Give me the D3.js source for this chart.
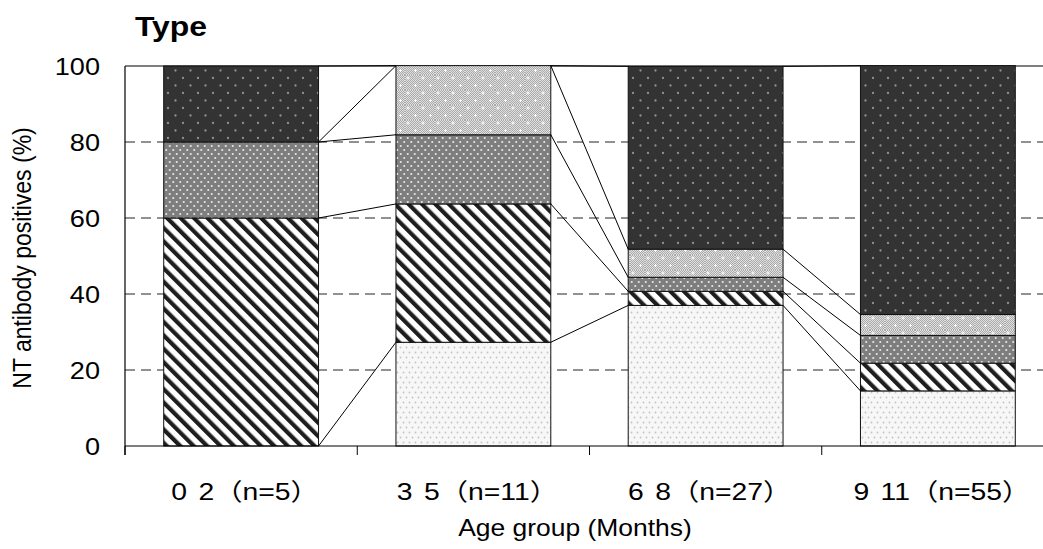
<!DOCTYPE html>
<html><head><meta charset="utf-8">
<script src="https://cdn.jsdelivr.net/npm/d3@7"></script>
<style>
html,body{margin:0;padding:0;background:#fff;}
svg{display:block;font-family:"Liberation Sans",Arial,"Noto Sans CJK JP",sans-serif;}
</style></head>
<body>
<svg id="chart" width="1043" height="549"></svg>
<script>
// ---- data (percent of NT antibody positives per age group) ----
const categories = ["0 2（n=5）", "3 5（n=11）", "6 8（n=27）", "9 11（n=55）"];
const seriesNames = ["type1", "type2", "type3", "type4", "type5"];
const type1 = [0, 27.3, 37.0, 14.5];
const type2 = [60, 36.4, 3.7, 7.3];
const type3 = [20, 18.2, 3.7, 7.3];
const type4 = [0, 18.2, 7.4, 5.5];
const type5 = [20, 0, 48.1, 65.5];
const yTicks = [0, 20, 40, 60, 80, 100];
const titleText = "Type";
const xTitle = "Age group (Months)";
const yTitle = "NT antibody positives (%)";

const seriesValues = [type1, type2, type3, type4, type5];
const table = categories.map((c, i) => {
  const row = {cat: c};
  seriesNames.forEach((s, j) => row[s] = seriesValues[j][i]);
  return row;
});

const svg = d3.select("#chart");
const margin = {left: 125, top: 66, right: 1054, bottom: 446};

// ---- patterns ----
const defs = svg.append("defs");
function dotPattern(id, w, h, bg, dots, col, r) {
  const p = defs.append("pattern").attr("id", id).attr("patternUnits", "userSpaceOnUse")
    .attr("width", w).attr("height", h);
  p.append("rect").attr("width", w).attr("height", h).attr("fill", bg);
  dots.forEach(d => p.append("circle").attr("cx", d[0]).attr("cy", d[1]).attr("r", r).attr("fill", col));
  return p;
}
dotPattern("p1", 6, 10, "#f7f7f7", [[1.5, 2.5], [4.5, 7.5]], "#c4c4c4", 0.9);
const ps = defs.append("pattern").attr("id", "p2").attr("patternUnits", "userSpaceOnUse")
  .attr("width", 9.5).attr("height", 10).attr("patternTransform", "rotate(-45)");
ps.append("rect").attr("width", 9.5).attr("height", 10).attr("fill", "#fff");
ps.append("rect").attr("x", 0).attr("width", 4.2).attr("height", 10).attr("fill", "#1e1e1e");
dotPattern("p3", 7, 8, "#7e7e7e", [[1.75, 2], [5.25, 6]], "#e8e8e8", 1.05);
const pc = defs.append("pattern").attr("id", "chk").attr("patternUnits", "userSpaceOnUse")
  .attr("width", 2).attr("height", 2);
pc.append("rect").attr("width", 2).attr("height", 2).attr("fill", "#e0e0e0");
pc.append("rect").attr("width", 1).attr("height", 1).attr("fill", "#aaaaaa");
pc.append("rect").attr("x", 1).attr("y", 1).attr("width", 1).attr("height", 1).attr("fill", "#aaaaaa");
const p4 = defs.append("pattern").attr("id", "p4").attr("patternUnits", "userSpaceOnUse")
  .attr("width", 15).attr("height", 15);
p4.append("rect").attr("width", 15).attr("height", 15).attr("fill", "url(#chk)");
[[3, 3], [10.5, 10.5]].forEach(d => {
  p4.append("rect").attr("x", d[0] - 1.5).attr("y", d[1] - 0.5).attr("width", 3).attr("height", 1).attr("fill", "#fff");
  p4.append("rect").attr("x", d[0] - 0.5).attr("y", d[1] - 1.5).attr("width", 1).attr("height", 3).attr("fill", "#fff");
});
dotPattern("p5", 15, 15, "#333333", [[3, 3], [10.5, 10.5]], "#909090", 1.15);
const fills = {type1: "url(#p1)", type2: "url(#p2)", type3: "url(#p3)", type4: "url(#p4)", type5: "url(#p5)"};

// ---- scales ----
const x = d3.scaleBand().domain(categories).range([margin.left, margin.right])
  .paddingInner(1 / 3).paddingOuter(1 / 6);
const y = d3.scaleLinear().domain([0, 100]).range([margin.bottom, margin.top]);

// gridlines
svg.append("g").selectAll("line").data(yTicks.filter(t => t > 0 && t < 100)).join("line")
  .attr("x1", margin.left).attr("x2", margin.right)
  .attr("y1", d => y(d)).attr("y2", d => y(d))
  .attr("stroke", "#222").attr("stroke-width", 1).attr("stroke-dasharray", "10,6");

// top frame
svg.append("line").attr("x1", margin.left).attr("x2", margin.right)
  .attr("y1", y(100)).attr("y2", y(100)).attr("stroke", "#000").attr("stroke-width", 1.2);

// ---- stacked bars ----
const stack = d3.stack().keys(seriesNames)(table);
const bars = svg.append("g");
stack.forEach(layer => {
  bars.append("g").selectAll("rect").data(layer).join("rect")
    .attr("x", d => x(d.data.cat))
    .attr("width", x.bandwidth())
    .attr("y", d => y(d[1]))
    .attr("height", d => y(d[0]) - y(d[1]))
    .attr("fill", fills[layer.key])
    .attr("stroke", "#111").attr("stroke-width", 1);
});

// connector lines between cumulative boundaries of neighbouring bars
const conn = svg.append("g");
stack.forEach(layer => {
  for (let i = 0; i < categories.length - 1; i++) {
    conn.append("line")
      .attr("x1", x(categories[i]) + x.bandwidth()).attr("y1", y(layer[i][1]))
      .attr("x2", x(categories[i + 1])).attr("y2", y(layer[i + 1][1]))
      .attr("stroke", "#000").attr("stroke-width", 1);
  }
});

// ---- axes ----
const xAxis = svg.append("g").attr("transform", `translate(0,${margin.bottom})`)
  .call(d3.axisBottom(x).tickSize(0).tickPadding(0));
xAxis.select(".domain").remove();
xAxis.selectAll("text").attr("y", 0).attr("dy", null)
  .attr("transform", `translate(4,54) scale(1.18,1)`)
  .attr("font-size", 24).attr("fill", "#000").attr("word-spacing", 3)
  .attr("font-family", "'Liberation Sans', Arial, 'Noto Sans CJK JP', sans-serif");
svg.append("line").attr("x1", margin.left).attr("x2", margin.right)
  .attr("y1", margin.bottom).attr("y2", margin.bottom).attr("stroke", "#000").attr("stroke-width", 1.2);
svg.append("g").selectAll("line").data(categories).join("line")
  .attr("x1", d => x(d) - x.step() * x.paddingInner() / 2)
  .attr("x2", d => x(d) - x.step() * x.paddingInner() / 2)
  .attr("y1", margin.bottom).attr("y2", margin.bottom + 9)
  .attr("stroke", "#000").attr("stroke-width", 1);

const yAxis = svg.append("g").attr("transform", `translate(${margin.left},0)`)
  .call(d3.axisLeft(y).tickValues(yTicks).tickSize(0).tickPadding(0));
yAxis.select(".domain").remove();
yAxis.selectAll("text").attr("x", 0).attr("dy", "0.36em")
  .attr("transform", `translate(-25,0) scale(1.13,1)`)
  .attr("font-size", 24).attr("fill", "#000")
  .attr("font-family", "'Liberation Sans', Arial, sans-serif");
svg.append("line").attr("x1", margin.left).attr("x2", margin.left)
  .attr("y1", margin.top).attr("y2", margin.bottom + 9).attr("stroke", "#000").attr("stroke-width", 1.2);

// titles
svg.append("text").attr("transform", `translate(135,36) scale(1.14,1)`)
  .attr("font-size", 28).attr("font-weight", "bold").text(titleText);
svg.append("text").attr("transform", `translate(575,536) scale(1.15,1)`)
  .attr("text-anchor", "middle").attr("font-size", 23).text(xTitle);
svg.append("text").attr("transform", `translate(31,${(margin.top + margin.bottom) / 2 + 2}) scale(1.16,1) rotate(-90)`)
  .attr("text-anchor", "middle").attr("font-size", 23).text(yTitle);
</script>
</body></html>
